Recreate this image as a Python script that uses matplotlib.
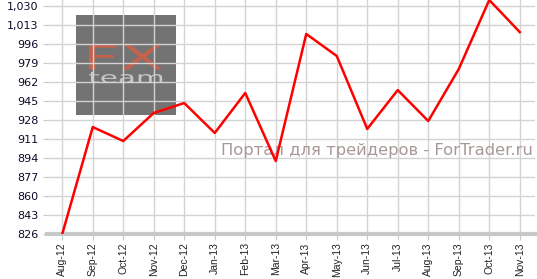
import numpy as np
import matplotlib.pyplot as plt
from matplotlib.patches import Rectangle, PathPatch
from matplotlib.textpath import TextPath
from matplotlib.font_manager import FontProperties
from matplotlib.transforms import Affine2D

months = ['Aug-12', 'Sep-12', 'Oct-12', 'Nov-12', 'Dec-12', 'Jan-13', 'Feb-13', 'Mar-13',
          'Apr-13', 'May-13', 'Jun-13', 'Jul-13', 'Aug-13', 'Sep-13', 'Oct-13', 'Nov-13']
values = [826, 921.7, 909.2, 934.3, 943.2, 916.4, 952.2, 891.3,
          1005, 985.3, 920, 954.8, 927.1, 973.6, 1035.4, 1006.7]
yticks = [826, 843, 860, 877, 894, 911, 928, 945, 962, 979, 996, 1013, 1030]

plt.rcParams['font.family'] = ['Liberation Sans', 'DejaVu Sans']


def logo_word(ax, word, box, color):
    # stretch a text outline to fill box (axes fraction x0, y0, x1, y1)
    tp = TextPath((0, 0), word, size=10, prop=FontProperties(family='DejaVu Sans'))
    ext = tp.get_extents()
    x0, y0, x1, y1 = box
    tr = (Affine2D().translate(-ext.x0, -ext.y0)
          .scale((x1 - x0) / ext.width, (y1 - y0) / ext.height)
          .translate(x0, y0))
    ax.add_patch(PathPatch(tr.transform_path(tp), transform=ax.transAxes,
                           facecolor=color, edgecolor='none', zorder=-1))


fig = plt.figure(figsize=(5.37, 2.79), dpi=100)
ax = fig.add_axes([47/537, 45/279, 488/537, 234/279])
x = np.arange(len(months))

# watermark box, grid goes over it
ax.add_patch(Rectangle((0.059, 0.509), 0.205, 0.427, transform=ax.transAxes,
                       facecolor='#737373', edgecolor='none', zorder=-2))
logo_word(ax, 'FX', (0.086, 0.703, 0.236, 0.808), '#c4624e')
logo_word(ax, 'team', (0.086, 0.645, 0.236, 0.693), '#c8c8c8')
ax.text(0.996, 0.358, 'Портал для трейдеров - ForTrader.ru', transform=ax.transAxes,
        ha='right', va='center', fontsize=11.8, color='#a89898', zorder=2,
        family=['DejaVu Sans'])

ax.plot(x, values, color='#ff0000', linewidth=1.8, zorder=3)

ax.set_xlim(-0.5, len(months) - 0.5)
ax.set_ylim(826, 1035.4)
ax.set_xticks(x)
ax.set_xticklabels(months, rotation=90, fontsize=7.5, color='#222222')
ax.set_yticks(yticks)
ax.set_yticklabels([f'{v:,}' for v in yticks], fontsize=8, color='#0a0a2a',
                   family=['DejaVu Sans'])
ax.grid(True, color='#d3d3d3', linewidth=1)
ax.xaxis.set_zorder(0.5)
ax.yaxis.set_zorder(0.5)
for s in ['top', 'right', 'left']:
    ax.spines[s].set_visible(False)
ax.spines['bottom'].set_color('#c8c8c8')
ax.spines['bottom'].set_linewidth(3)
ax.tick_params(axis='x', length=4, color='#c8c8c8', pad=2)
ax.tick_params(axis='y', length=3, color='#c8c8c8', pad=3)

fig.savefig('out.png', dpi=100)
